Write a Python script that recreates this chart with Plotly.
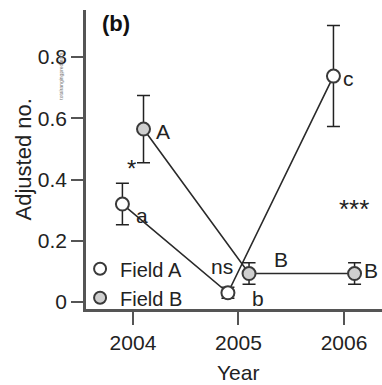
import plotly.graph_objects as go

# ---- data ----
years = [2004, 2005, 2006]
field_a = [0.32, 0.03, 0.738]
field_a_err = [0.068, 0.018, 0.165]
field_b = [0.565, 0.093, 0.093]
field_b_err = [0.11, 0.035, 0.035]
series_names = ["Field A", "Field B"]
y_ticks = [0, 0.2, 0.4, 0.6, 0.8]
y_tick_text = ["0", "0.2", "0.4", "0.6", "0.8"]
letters_a = ["a", "ns", "c"]
letters_b = ["A", "B", "B"]

offset = 0.1
xa = [y - offset for y in years]
xb = [y + offset for y in years]

FONT = "Arial, Liberation Sans, sans-serif"
INK = "#222222"
AXIS = "#555555"

fig = go.Figure()

fig.add_trace(go.Scatter(
    x=xa, y=field_a, mode="lines+markers", name=series_names[0], showlegend=False,
    line=dict(color="#2a2a2a", width=1.6),
    marker=dict(symbol="circle", size=13, color="white", line=dict(color="#3a3a3a", width=2)),
    error_y=dict(type="data", array=field_a_err, visible=True, color=INK, thickness=1.5, width=6.5),
))
fig.add_trace(go.Scatter(
    x=xb, y=field_b, mode="lines+markers", name=series_names[1], showlegend=False,
    line=dict(color="#2a2a2a", width=1.6),
    marker=dict(symbol="circle", size=13, color="#cfcfcf", line=dict(color="#3a3a3a", width=2)),
    error_y=dict(type="data", array=field_b_err, visible=True, color=INK, thickness=1.5, width=6.5),
))
# legend-only entries
fig.add_trace(go.Scatter(
    x=[None], y=[None], mode="markers", name=series_names[0],
    marker=dict(symbol="circle", size=12, color="white", line=dict(color="#3a3a3a", width=2)),
))
fig.add_trace(go.Scatter(
    x=[None], y=[None], mode="markers", name=series_names[1],
    marker=dict(symbol="circle", size=12, color="#cfcfcf", line=dict(color="#3a3a3a", width=2)),
))

ann = []
# letters next to points
ann.append(dict(x=xb[0], y=field_b[0], text=letters_b[0], xshift=19, yshift=-2))
ann.append(dict(x=xa[0], y=field_a[0], text=letters_a[0], xshift=20, yshift=-11))
ann.append(dict(x=xa[1], y=field_a[1], text=letters_a[1], xshift=-6, yshift=26))
ann.append(dict(x=xb[1], y=field_b[1], text=letters_b[1], xshift=32, yshift=14))
ann.append(dict(x=xb[1], y=field_b[1], text="b", xshift=9, yshift=-25))
ann.append(dict(x=xb[2], y=field_b[2], text=letters_b[2], xshift=16, yshift=3))
ann.append(dict(x=xa[2], y=field_a[2], text=letters_a[2], xshift=15, yshift=-2))
for a in ann:
    a.update(xref="x", yref="y", showarrow=False, font=dict(family=FONT, size=21, color=INK))

ann.append(dict(xref="x", yref="y", x=years[0], y=0.435, text="*", xshift=-1, showarrow=False,
                font=dict(family=FONT, size=24, color=INK)))
ann.append(dict(xref="x", yref="y", x=years[2], y=0.305, text="***", xshift=10, showarrow=False,
                font=dict(family=FONT, size=26, color=INK)))

ann.append(dict(xref="paper", yref="paper", x=0.1, y=1.0, text="<b>(b)</b>", showarrow=False,
                xanchor="center", yanchor="middle", yshift=-13,
                font=dict(family=FONT, size=22, color="#111111")))
ann.append(dict(xref="paper", yref="paper", x=-0.2095, y=0.5, text="Adjusted no.", textangle=-90,
                showarrow=False, xanchor="center", yanchor="middle",
                font=dict(family=FONT, size=22, color=INK)))
ann.append(dict(xref="x", yref="paper", x=years[1], y=-0.214, text="Year",
                showarrow=False, xanchor="center", yanchor="middle",
                font=dict(family=FONT, size=21, color=INK)))
ann.append(dict(xref="paper", yref="y", x=-0.087, y=0.74, text="totalrangingpredators", textangle=-90,
                showarrow=False, xanchor="center", yanchor="middle",
                font=dict(family=FONT, size=5, color="#777777")))

fig.update_layout(
    width=382, height=385,
    margin=dict(l=86, r=0, t=10, b=76),
    paper_bgcolor="white", plot_bgcolor="white",
    font=dict(family=FONT, size=21, color=INK),
    annotations=ann,
    showlegend=True,
    legend=dict(x=-0.02, y=0.2, xanchor="left", yanchor="top", bgcolor="rgba(0,0,0,0)",
                font=dict(family=FONT, size=20, color=INK), itemwidth=30, tracegroupgap=0),
    xaxis=dict(range=[2003.555, 2006.36], tickvals=years, ticktext=[str(y) for y in years],
               showgrid=False, zeroline=False, showline=True, linecolor=AXIS, linewidth=2.5,
               ticks="outside", ticklen=13, tickwidth=2, tickcolor=AXIS,
               tickfont=dict(family=FONT, size=21, color=INK)),
    yaxis=dict(range=[-0.0229, 0.954], tickvals=y_ticks, ticktext=y_tick_text,
               showgrid=False, zeroline=False, showline=True, linecolor=AXIS, linewidth=2.5,
               ticks="outside", ticklen=12, tickwidth=2, tickcolor=AXIS,
               tickfont=dict(family=FONT, size=21, color=INK)),
)

fig.write_html("out.html")
